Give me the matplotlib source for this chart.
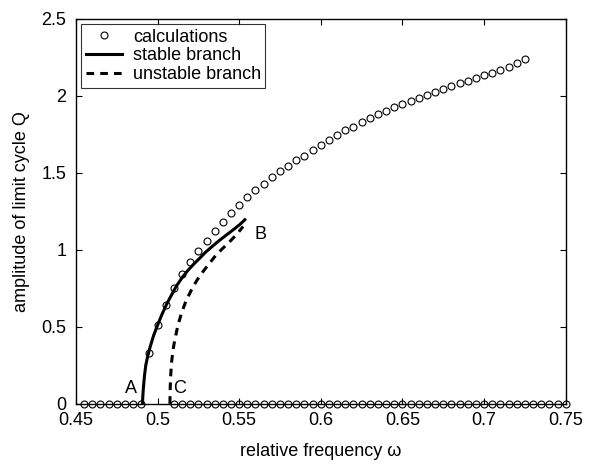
import numpy as np
import matplotlib
matplotlib.use('Agg')
import matplotlib.pyplot as plt

plt.rcParams['font.family'] = ['Liberation Sans', 'DejaVu Sans']

# calculations (circles), nonzero amplitude
calc_w = [0.495, 0.500, 0.505, 0.510, 0.515, 0.520, 0.525, 0.530, 0.535, 0.540,
          0.545, 0.550, 0.555, 0.560, 0.565, 0.570, 0.575, 0.580, 0.585, 0.590,
          0.595, 0.600, 0.605, 0.610, 0.615, 0.620, 0.625, 0.630, 0.635, 0.640,
          0.645, 0.650, 0.655, 0.660, 0.665, 0.670, 0.675, 0.680, 0.685, 0.690,
          0.695, 0.700, 0.705, 0.710, 0.715, 0.720, 0.725]
calc_q = [0.33, 0.51, 0.64, 0.75, 0.84, 0.92, 0.99, 1.06, 1.12, 1.18,
          1.24, 1.29, 1.34, 1.39, 1.43, 1.47, 1.51, 1.545, 1.58, 1.61,
          1.645, 1.68, 1.71, 1.745, 1.775, 1.80, 1.83, 1.855, 1.88, 1.90,
          1.927, 1.948, 1.968, 1.987, 2.005, 2.024, 2.044, 2.062, 2.08, 2.097,
          2.114, 2.132, 2.148, 2.167, 2.19, 2.215, 2.24]

# calculations with zero amplitude
zero_w = [0.455, 0.46, 0.465, 0.47, 0.475, 0.48, 0.485, 0.49,
          0.51, 0.515, 0.52, 0.525, 0.53, 0.535, 0.54, 0.545, 0.55, 0.555,
          0.56, 0.565, 0.57, 0.575, 0.58, 0.585, 0.59, 0.595, 0.60, 0.605,
          0.61, 0.615, 0.62, 0.625, 0.63, 0.635, 0.64, 0.645, 0.65, 0.655,
          0.66, 0.665, 0.67, 0.675, 0.68, 0.685, 0.69, 0.695, 0.70, 0.705,
          0.71, 0.715, 0.72, 0.725, 0.73, 0.735, 0.74, 0.745, 0.75]
zero_q = [0.0] * len(zero_w)

# stable branch A -> B
stable_w = [0.4908, 0.4910, 0.4914, 0.4920, 0.4928, 0.4940, 0.4955, 0.4975,
            0.5000, 0.5027, 0.5054, 0.5085, 0.5116, 0.5150, 0.5185, 0.5220,
            0.5258, 0.5295, 0.5335, 0.5378, 0.5423, 0.5470, 0.5505, 0.5535]
stable_q = [0.0, 0.05, 0.11, 0.18, 0.25, 0.31, 0.37, 0.44,
            0.51, 0.58, 0.643, 0.705, 0.765, 0.818, 0.865, 0.905,
            0.945, 0.985, 1.022, 1.06, 1.097, 1.135, 1.165, 1.195]

# unstable branch C -> B
unstable_w = [0.5076, 0.5077, 0.5080, 0.5085, 0.5095, 0.5106, 0.5125, 0.5147,
              0.5175, 0.5208, 0.5240, 0.5279, 0.5320, 0.5360, 0.5400, 0.5443,
              0.5485, 0.5524]
unstable_q = [0.0, 0.08, 0.17, 0.26, 0.35, 0.416, 0.51, 0.589,
              0.67, 0.740, 0.80, 0.859, 0.915, 0.968, 1.01, 1.054,
              1.10, 1.151]

fs = 13

fig = plt.figure(figsize=(6.07, 4.69), dpi=100)
ax = fig.add_axes([0.125, 0.139, 0.807, 0.821])

ax.plot(calc_w, calc_q, 'o', mfc='none', mec='black', ms=5, mew=0.8,
        label='calculations', clip_on=False)
ax.plot(zero_w, zero_q, 'o', mfc='none', mec='black', ms=5, mew=0.8,
        clip_on=False)
ax.plot(stable_w, stable_q, '-', color='black', lw=2.2, label='stable branch')
ax.plot(unstable_w, unstable_q, '--', color='black', lw=2.2,
        dashes=(2.5, 2.0), label='unstable branch')

ax.text(0.4835, 0.10, 'A', fontsize=fs, ha='center', va='center')
ax.text(0.5137, 0.10, 'C', fontsize=fs, ha='center', va='center')
ax.text(0.5633, 1.10, 'B', fontsize=fs, ha='center', va='center')

ax.set_xlim(0.45, 0.75)
ax.set_ylim(0, 2.5)
ax.set_xticks([0.45, 0.5, 0.55, 0.6, 0.65, 0.7, 0.75])
ax.set_xticklabels(['0.45', '0.5', '0.55', '0.6', '0.65', '0.7', '0.75'])
ax.set_yticks([0, 0.5, 1, 1.5, 2, 2.5])
ax.set_yticklabels(['0', '0.5', '1', '1.5', '2', '2.5'])
ax.tick_params(direction='in', top=True, right=True, labelsize=fs, length=4,
               width=0.8)
ax.tick_params(axis='x', pad=6)
ax.tick_params(axis='y', pad=7)
for s in ax.spines.values():
    s.set_linewidth(1.0)

ax.set_xlabel('relative frequency ω', fontsize=fs, labelpad=10)
ax.set_ylabel('amplitude of limit cycle Q', fontsize=fs, labelpad=8)

leg = ax.legend(loc='upper left', fontsize=fs, frameon=True, fancybox=False,
                edgecolor='black', borderaxespad=0.3, handlelength=2.0,
                borderpad=0.25, labelspacing=0.1, handletextpad=0.6)
leg.get_frame().set_linewidth(0.8)

fig.savefig('out.png', dpi=100)
